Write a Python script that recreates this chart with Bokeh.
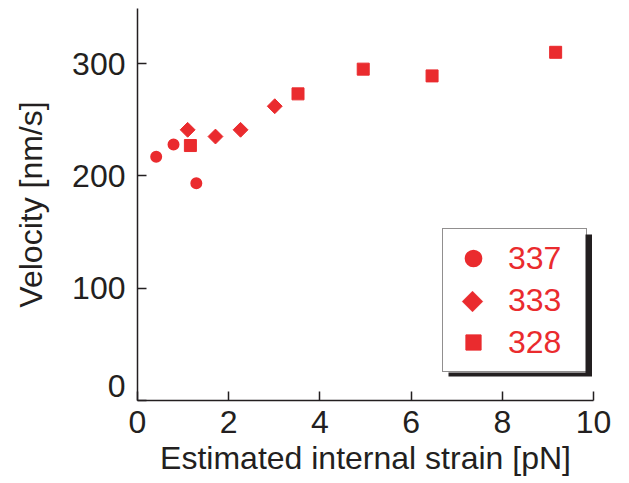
import math
from bokeh.plotting import figure
from bokeh.models import (Range1d, Legend, LegendItem, BoxAnnotation, PolyAnnotation,
                          FixedTicker)
from bokeh.embed import file_html
from bokeh.resources import INLINE

# ---- data ----
strain_337 = [0.41, 0.79, 1.29]
vel_337 = [217, 228, 193.5]
strain_333 = [1.10, 1.71, 2.26, 3.01]
vel_333 = [241, 235, 241, 262]
strain_328 = [1.16, 3.52, 4.95, 6.46, 9.17]
vel_328 = [227, 273, 295, 289, 310]
series_labels = ["337", "333", "328"]
x_ticks = [0, 2, 4, 6, 8, 10]
y_ticks = [0, 100, 200, 300]
x_lim = (0, 10)
y_lim = (0, 349)

RED = "#EA2B2E"
TXT = "#231F20"
FONT = "Liberation Sans"
FS = "32px"

# ---- layout constants (pixels) ----
W, H = 629, 483
B_LEFT, B_RIGHT, B_TOP, B_BOTTOM = 137, 36, 8, 83
FRAME_W = W - B_LEFT - B_RIGHT
FRAME_H = H - B_TOP - B_BOTTOM
LEG_X, LEG_Y = 305, 28            # legend bottom-left, from frame bottom-left
PAD, GW, GH, SPACING, STANDOFF, LABEL_W = 10, 40, 38, 4, 15, 68
LEG_W = 2 * PAD + GW + STANDOFF + LABEL_W
LEG_H = 2 * PAD + 3 * GH + 2 * SPACING
SH_DX, SH_DY = 6, 4               # shadow offset


def px_x(px):
    return x_lim[0] + px * (x_lim[1] - x_lim[0]) / FRAME_W


def px_y(px):
    return y_lim[0] + px * (y_lim[1] - y_lim[0]) / FRAME_H


p = figure(width=W, height=H, output_backend="svg", toolbar_location=None,
           x_range=Range1d(*x_lim), y_range=Range1d(*y_lim),
           min_border_left=B_LEFT, min_border_right=B_RIGHT,
           min_border_top=B_TOP, min_border_bottom=B_BOTTOM)
p.outline_line_color = None
p.xgrid.visible = False
p.ygrid.visible = False

r1 = p.scatter(strain_337, vel_337, marker="circle", size=9.5, color=RED, line_color=RED,
               line_width=2.5)
r2 = p.scatter(strain_333, vel_333, marker="square", size=10.5, angle=math.pi / 4,
               color=RED, line_color=RED)
r3 = p.scatter(strain_328, vel_328, marker="square", size=12, color=RED, line_color=RED)
# transparent twin of series 333 for its legend entry (symbol drawn as a diamond below)
r2_key = p.scatter(strain_333, vel_333, marker="square", size=10.5, angle=math.pi / 4,
                   color=RED, fill_alpha=0, line_alpha=0)

for ax in (p.xaxis[0], p.yaxis[0]):
    ax.axis_line_color = TXT
    ax.axis_line_width = 1.5
    ax.major_tick_line_color = TXT
    ax.major_tick_line_width = 1.5
    ax.major_tick_in = 9
    ax.major_tick_out = 0
    ax.minor_tick_line_color = None
    ax.major_label_text_font = FONT
    ax.major_label_text_font_size = FS
    ax.major_label_text_color = TXT
    ax.axis_label_text_font = FONT
    ax.axis_label_text_font_size = FS
    ax.axis_label_text_font_style = "normal"
    ax.axis_label_text_color = TXT

p.xaxis.ticker = FixedTicker(ticks=x_ticks)
p.yaxis.ticker = FixedTicker(ticks=y_ticks)
p.xaxis.axis_label = "Estimated internal strain [pN]"
p.yaxis.axis_label = "Velocity [nm/s]"
p.xaxis.major_label_standoff = 10
p.xaxis.axis_label_standoff = 4
p.yaxis.major_label_standoff = 12
p.yaxis.axis_label_standoff = 20
p.yaxis.major_label_text_line_height = 0.8
p.yaxis.major_label_overrides = {0: "0\n "}

# legend drop shadow and white panel (drawn before the legend itself)
shadow = BoxAnnotation(left=px_x(LEG_X + SH_DX), right=px_x(LEG_X + LEG_W + SH_DX + 0.5),
                       bottom=px_y(LEG_Y - SH_DY), top=px_y(LEG_Y + LEG_H - SH_DY),
                       fill_color=TXT, fill_alpha=1, line_color=None)
p.add_layout(shadow)
panel = BoxAnnotation(left=px_x(LEG_X), right=px_x(LEG_X + LEG_W),
                      bottom=px_y(LEG_Y), top=px_y(LEG_Y + LEG_H),
                      fill_color="white", fill_alpha=1, line_color=None)
p.add_layout(panel)

# Bokeh draws legend markers unrotated: draw the 333 key symbol as a diamond
cx = LEG_X + PAD + GW / 2
cy = LEG_Y + LEG_H - PAD - GH - SPACING - GH / 2
dia_r = 10.5
diamond = PolyAnnotation(xs=[px_x(cx), px_x(cx + dia_r), px_x(cx), px_x(cx - dia_r)],
                         ys=[px_y(cy + dia_r), px_y(cy), px_y(cy - dia_r), px_y(cy)],
                         fill_color=RED, fill_alpha=1, line_color=RED, line_width=0.5)
p.add_layout(diamond)

legend = Legend(items=[LegendItem(label=series_labels[0], renderers=[r1]),
                       LegendItem(label=series_labels[1], renderers=[r2_key]),
                       LegendItem(label=series_labels[2], renderers=[r3])],
                location=(LEG_X, LEG_Y), glyph_width=GW, glyph_height=GH,
                label_standoff=STANDOFF, label_width=LABEL_W, spacing=SPACING,
                padding=PAD, margin=0,
                label_text_font=FONT, label_text_font_size=FS, label_text_color=RED,
                border_line_color=TXT, border_line_width=1.5,
                background_fill_alpha=0)
p.add_layout(legend, "center")

open("out.html", "w").write(file_html(p, INLINE))
